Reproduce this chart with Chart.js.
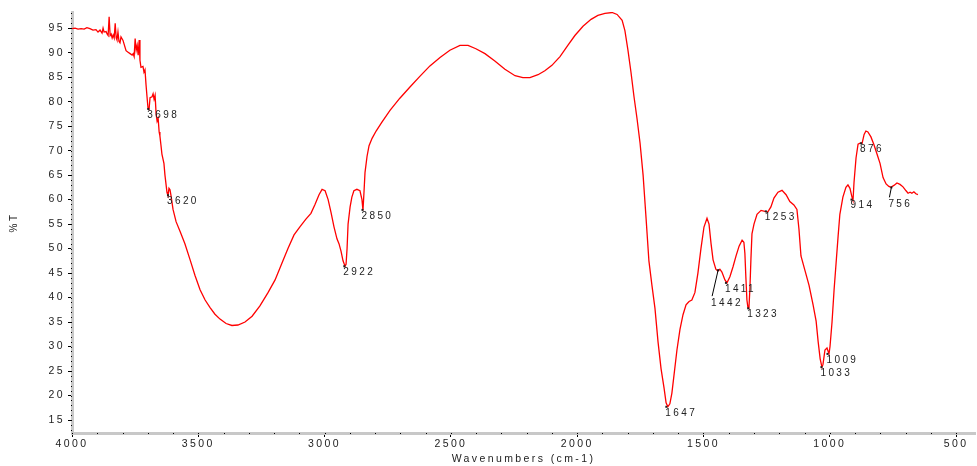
<!DOCTYPE html>
<html lang="en">
<head>
<meta charset="UTF-8">
<title>IR spectrum</title>
<script src="https://cdn.jsdelivr.net/npm/chart.js"></script>
<style>
    body { margin: 0; background: #ffffff; }
    #wrap { width: 977px; height: 466px; }
</style>
</head>
<body>
<div id="wrap"><canvas id="irChart" width="977" height="466"></canvas></div>
<script>
// spectrum (cm-1, %T)
const wavenumbers = [
    4000, 3988, 3976, 3964, 3952, 3941, 3929, 3917, 3905, 3897, 3889, 3881, 3877, 3873, 3865, 3861, 3857, 3853,
    3849, 3845, 3841, 3837, 3833, 3829, 3825, 3822, 3818, 3814, 3810, 3806, 3798, 3794, 3786, 3778, 3770, 3762,
    3758, 3754, 3750, 3746, 3742, 3738, 3734, 3731, 3727, 3719, 3715, 3711, 3707, 3703, 3699, 3695, 3691, 3683,
    3679, 3675, 3671, 3667, 3663, 3659, 3655, 3652, 3648, 3644, 3636, 3632, 3624, 3620, 3616, 3612, 3608, 3600,
    3588, 3572, 3553, 3533, 3513, 3493, 3473, 3454, 3434, 3414, 3390, 3367, 3343, 3315, 3287, 3256, 3224, 3196,
    3169, 3145, 3121, 3097, 3074, 3054, 3038, 3022, 3010, 2998, 2986, 2975, 2963, 2951, 2943, 2935, 2927, 2919,
    2915, 2911, 2907, 2899, 2892, 2884, 2872, 2860, 2852, 2848, 2844, 2840, 2832, 2824, 2812, 2796, 2773, 2741,
    2702, 2662, 2622, 2583, 2543, 2504, 2464, 2432, 2401, 2365, 2326, 2286, 2246, 2215, 2187, 2155, 2128, 2100,
    2068, 2037, 2009, 1977, 1945, 1918, 1890, 1862, 1842, 1822, 1811, 1799, 1787, 1775, 1763, 1751, 1739, 1727,
    1716, 1704, 1692, 1680, 1668, 1656, 1648, 1641, 1633, 1625, 1617, 1605, 1593, 1581, 1569, 1557, 1546, 1534,
    1522, 1510, 1498, 1486, 1478, 1470, 1462, 1451, 1443, 1435, 1427, 1415, 1407, 1395, 1383, 1371, 1359, 1347,
    1340, 1336, 1332, 1328, 1324, 1320, 1316, 1312, 1308, 1300, 1288, 1272, 1257, 1245, 1233, 1221, 1205, 1189,
    1173, 1158, 1142, 1130, 1122, 1114, 1098, 1082, 1066, 1054, 1046, 1038, 1031, 1027, 1019, 1011, 1003, 999,
    991, 983, 975, 967, 960, 948, 936, 928, 920, 912, 908, 904, 896, 888, 880, 872, 864, 857,
    849, 837, 825, 813, 801, 789, 777, 766, 758, 746, 734, 722, 710, 698, 690, 682, 675, 667,
    659, 651
];
const transmittance = [
    94.9, 95.0, 94.8, 94.9, 94.8, 95.1, 94.9, 94.6, 94.7, 94.2, 94.6, 94.0, 95.0, 94.2, 94.3, 93.8, 93.5, 97.3,
    93.5, 93.8, 93.0, 93.6, 93.0, 96.0, 93.0, 92.6, 94.2, 92.3, 92.0, 93.2, 92.5, 91.8, 90.4, 90.1, 89.8, 89.5,
    89.8, 89.2, 92.9, 90.5, 91.5, 89.5, 92.6, 88.5, 87.0, 87.2, 86.0, 86.5, 83.5, 81.0, 78.6, 78.4, 80.8, 81.0,
    81.6, 80.5, 81.3, 77.5, 76.0, 76.6, 73.8, 73.0, 71.2, 69.3, 67.4, 65.0, 61.5, 60.8, 62.3, 62.0, 60.8, 58.0,
    55.5, 53.5, 51.0, 47.8, 44.5, 41.6, 39.5, 38.0, 36.6, 35.6, 34.7, 34.3, 34.4, 35.0, 36.2, 38.3, 41.0, 43.6,
    47.0, 50.0, 52.8, 54.5, 56.0, 57.2, 59.0, 61.0, 62.1, 61.8, 60.0, 57.5, 54.5, 52.0, 51.0, 49.5, 47.5, 46.4,
    46.8, 50.0, 55.0, 58.5, 60.5, 61.8, 62.1, 61.8, 60.0, 57.8, 61.5, 65.5, 68.8, 71.0, 72.5, 74.0, 75.8, 78.2,
    80.7, 83.0, 85.2, 87.3, 89.0, 90.5, 91.5, 91.5, 90.8, 89.8, 88.3, 86.6, 85.3, 84.9, 84.9, 85.5, 86.3, 87.4,
    89.2, 91.5, 93.5, 95.4, 96.8, 97.6, 98.0, 98.2, 97.8, 96.6, 94.5, 90.5, 86.0, 81.0, 76.5, 71.5, 65.0, 56.0,
    47.5, 42.5, 37.8, 31.0, 25.5, 21.5, 18.5, 17.7, 18.3, 20.5, 24.0, 29.3, 33.5, 36.5, 38.5, 39.2, 39.5, 41.0,
    45.0, 50.0, 54.4, 56.2, 55.0, 51.0, 47.7, 45.8, 45.4, 45.8, 45.2, 43.6, 43.0, 44.3, 46.3, 48.5, 50.5, 51.7,
    51.3, 49.0, 44.0, 39.5, 38.0, 37.8, 42.0, 48.0, 53.0, 55.0, 57.0, 57.8, 57.6, 57.5, 58.5, 60.3, 61.5, 61.9,
    61.0, 59.6, 58.9, 58.0, 54.0, 48.5, 45.5, 42.5, 38.5, 35.2, 31.0, 27.5, 25.8, 26.3, 29.3, 29.7, 28.5, 30.0,
    35.0, 41.5, 47.0, 52.5, 57.0, 60.5, 62.5, 63.0, 62.3, 60.5, 59.8, 63.5, 68.5, 71.3, 71.5, 71.5, 73.3, 74.0,
    73.8, 72.8, 71.2, 69.3, 67.4, 64.5, 63.2, 62.7, 62.5, 62.9, 63.4, 63.1, 62.6, 61.8, 61.3, 61.5, 61.3, 61.6,
    61.2, 61.0
];

// labelled peaks
const peakWavenumbers = [3698, 3620, 2922, 2850, 1647, 1442, 1411, 1323, 1253, 1033, 1009, 914, 876, 756];
const peakTransmittance = [78.5, 60.9, 46.4, 57.9, 17.7, 45.6, 43.0, 37.8, 57.6, 25.8, 28.5, 60.0, 71.5, 62.5];

const xTicks = [4000, 3500, 3000, 2500, 2000, 1500, 1000, 500];
const yTicks = [15, 20, 25, 30, 35, 40, 45, 50, 55, 60, 65, 70, 75, 80, 85, 90, 95];

const FONT = '"Liberation Sans", Arial, sans-serif';
const SPACING = '2.4px';

// labels drawn with a leader line
const leaders = { 1442: [-7, 33], 756: [-3, 17] };

const spacingPlugin = {
    id: 'spacing',
    beforeUpdate(chart) { chart.ctx.letterSpacing = SPACING; },
    beforeDraw(chart) { chart.ctx.letterSpacing = SPACING; }
};

const extrasPlugin = {
    id: 'extras',
    afterDraw(chart) {
        const ctx = chart.ctx;
        const xs = chart.scales.x, ys = chart.scales.y;
        const area = chart.chartArea;
        ctx.save();
        // minor tick dots on the axis bands
        ctx.fillStyle = '#000';
        for (let v = 13; v <= 98; v++) {
            ctx.fillRect(area.left - 1, Math.round(ys.getPixelForValue(v)), 1, 1);
        }
        for (let w = 4000; w >= 500; w -= 100) {
            ctx.fillRect(Math.round(xs.getPixelForValue(w)), area.bottom, 1, 1);
        }
        // peak labels
        ctx.font = '10px ' + FONT;
        ctx.letterSpacing = SPACING;
        ctx.textAlign = 'left';
        ctx.textBaseline = 'middle';
        ctx.fillStyle = '#222';
        ctx.strokeStyle = '#000';
        ctx.lineWidth = 1;
        peakWavenumbers.forEach((w, i) => {
            const px = xs.getPixelForValue(w);
            const py = ys.getPixelForValue(peakTransmittance[i]);
            ctx.fillRect(px - 1, py - 1, 2, 2);
            const lead = leaders[w];
            if (lead) {
                ctx.beginPath();
                ctx.moveTo(px, py);
                ctx.lineTo(px + lead[0] + 1, py + lead[1] - 7);
                ctx.stroke();
                ctx.fillText(String(w), px + lead[0], py + lead[1]);
            } else {
                ctx.fillText(String(w), px - 1, py + 6);
            }
        });
        ctx.restore();
    }
};

const ctx = document.getElementById('irChart').getContext('2d');
const chart = new Chart(ctx, {
    type: 'line',
    data: {
        datasets: [{
            data: wavenumbers.map((w, i) => ({ x: w, y: transmittance[i] })),
            borderColor: '#ff0000',
            borderWidth: 1.3,
            pointRadius: 0,
            tension: 0,
            fill: false
        }]
    },
    options: {
        responsive: false,
        animation: false,
        layout: { padding: { top: 12, right: 2, left: 0, bottom: 0 } },
        plugins: { legend: { display: false }, tooltip: { enabled: false } },
        scales: {
            x: {
                type: 'linear',
                reverse: true,
                min: 425,
                max: 4000,
                afterBuildTicks: s => { s.ticks = xTicks.map(v => ({ value: v })); },
                afterFit: s => { s.height = 33; },
                border: { color: '#c8c8c8', width: 3 },
                grid: { drawOnChartArea: false, drawTicks: true, tickLength: 4, color: '#000', lineWidth: 1 },
                ticks: { color: '#222', font: { family: FONT, size: 10.5 }, padding: 1, maxRotation: 0, autoSkip: false, callback: v => String(v) },
                title: { display: true, text: 'Wavenumbers (cm-1)', color: '#222', font: { family: FONT, size: 10.5 }, padding: { top: 0, bottom: 1 } }
            },
            y: {
                type: 'linear',
                min: 12.35,
                max: 98.3,
                afterBuildTicks: s => { s.ticks = yTicks.map(v => ({ value: v })); },
                afterFit: s => { s.width = 72; },
                border: { color: '#c8c8c8', width: 3 },
                grid: { drawOnChartArea: false, drawTicks: true, tickLength: 4, color: '#000', lineWidth: 1 },
                ticks: { color: '#222', font: { family: FONT, size: 10.5 }, padding: 3, callback: v => String(v) },
                title: { display: true, text: '%T', color: '#222', font: { family: FONT, size: 10 }, padding: { top: 8, bottom: 0 } }
            }
        }
    },
    plugins: [spacingPlugin, extrasPlugin]
});
</script>
</body>
</html>
